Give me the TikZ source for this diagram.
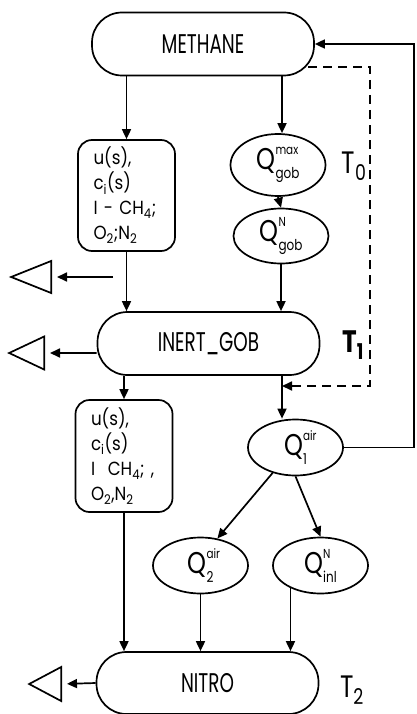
\documentclass[tikz,border=0pt]{standalone}
\usepackage{amsmath}
\usepackage{fontspec}
\setmainfont{Poppins}[FakeStretch=0.8]
\newfontfamily\stagefont{Poppins}[FakeStretch=0.68]
\newfontfamily\mixfont{Poppins}[FakeStretch=0.88]
\usetikzlibrary{shapes.geometric,arrows.meta}

\newcommand{\flowlab}[2]{Q\makebox[0pt][l]{\raisebox{15pt}{\fontsize{13}{13}\selectfont #1}}\raisebox{-9pt}{\fontsize{15}{15}\selectfont #2}}

\tikzset{
  stad/.style={draw, line width=1.7pt, rounded corners=30pt, minimum width=222pt,
    minimum height=63pt, inner sep=0pt, font=\stagefont\fontsize{27}{28}\selectfont},
  varbox/.style={draw, line width=1.7pt, rounded corners=14pt, minimum width=97pt,
    minimum height=111pt, text width=66pt, align=left, inner sep=0pt,
    font=\mixfont\fontsize{19}{25}\selectfont},
  flowq/.style={draw, ellipse, line width=1.7pt, minimum width=95pt,
    minimum height=56pt, inner sep=0pt, font=\fontsize{30}{30}\selectfont},
  sink/.style={draw, isosceles triangle, isosceles triangle stretches, rotate=180,
    anchor=lower side, line width=1.7pt, inner sep=0pt},
  flow/.style={line width=1.7pt, -{Triangle[length=10pt,width=9pt]}},
  tlab/.style={font=\fontsize{31}{31}\selectfont},
}

\begin{document}
\begin{tikzpicture}[x=10pt,y=-10pt]
\useasboundingbox (0,0) rectangle (41.7,71.4);

% stages
\node[stad] (methane) at (20.3,4.4) {METHANE};
\node[stad] (inert) at (20.85,34.35) {INERT\_GOB};
\node[stad, minimum height=62pt] (nitro) at (20.75,68.3) {NITRO};

% mixture boxes
\node[varbox] (mixA) at (12.65,19.55) {u(s),\\c$_{\text{i}}$(s)\\I - CH$_{\text{4}}$;\\O$_{\text{2}}$;N$_{\text{2}}$};
\node[varbox, minimum height=112pt] (mixB) at (12.4,45.6) {u(s),\\c$_{\text{i}}$(s)\\I\ \ CH$_{\text{4}}$;\ ,\\O$_{\text{2}}$,N$_{\text{2}}$};

% flows
\node[flowq, minimum height=62pt] (gobmax) at (27.8,16.5) {\flowlab{max}{gob}};
\node[flowq, minimum height=55pt] (gobn) at (28.1,23.6) {\flowlab{N}{gob}};
\node[flowq] (qone) at (29.55,44.75) {\flowlab{air}{1}};
\node[flowq] (qtwo) at (20.05,56.55) {\flowlab{air}{2}};
\node[flowq] (qinl) at (32.05,56.55) {\flowlab{N}{inl}};

% time marks
\node[tlab] (tzero) at (35.4,16.6) {T$_{\text{0}}$};
\node[tlab] (tone) at (35.3,34.5) {\bfseries T$_{\text{1}}$};
\node[tlab] (ttwo) at (35.2,69) {T$_{\text{2}}$};

% outlets
\node[sink, minimum width=32pt, minimum height=40pt] (sinkA) at (5.2,27.7) {};
\node[sink, minimum width=33pt, minimum height=35pt] (sinkB) at (4.5,35.3) {};
\node[sink, minimum width=34pt, minimum height=32pt] (sinkC) at (6.2,68.4) {};

\coordinate (outA) at (11.3,27.7);
\coordinate (tap) at (28.2,38.6);
\coordinate (dA) at (30.8,6.7);
\coordinate (dB) at (37,6.7);
\coordinate (dC) at (37,38.6);
\coordinate (rA) at (41.4,44.75);
\coordinate (rB) at (41.4,4.4);

% connectors
\draw[flow] (mixA.north |- methane.south) -- (mixA.north);
\draw[flow] (tap |- methane.south) -- (tap |- gobmax.north);
\draw[flow] (gobmax.south) -- (gobn.north);
\draw[flow] (mixA.south) -- (mixA.south |- inert.north);
\draw[flow] (gobn.south) -- (gobn.south |- inert.north);
\draw[flow] (mixB.north |- inert.south) -- (mixB.north);
\draw[flow] (tap |- inert.south) -- (tap |- qone.north);
\draw[flow] (qone.-132) -- (qtwo.58);
\draw[flow] (qone.south) -- (qinl.north);
\draw[flow] (mixB.south) -- (mixB.south |- nitro.north);
\draw[flow] (qtwo.south) -- (qtwo.south |- nitro.north);
\draw[flow] (qinl.-143) -- (qinl.-143 |- nitro.north);

\draw[flow, shorten >=5pt] (outA) -- (sinkA.lower side);
\draw[flow, shorten >=5pt] ([yshift=-9.5pt]inert.west) -- (sinkB.lower side);
\draw[flow, shorten >=5pt] (nitro.west) -- (sinkC.lower side);

% return lines
\draw[flow] (qone.east) -- (rA) -- (rB) -- (methane.east);
\draw[flow, dash pattern=on 9pt off 6pt] (dA) -- (dB) -- (dC) -- (tap);
\end{tikzpicture}
\end{document}
